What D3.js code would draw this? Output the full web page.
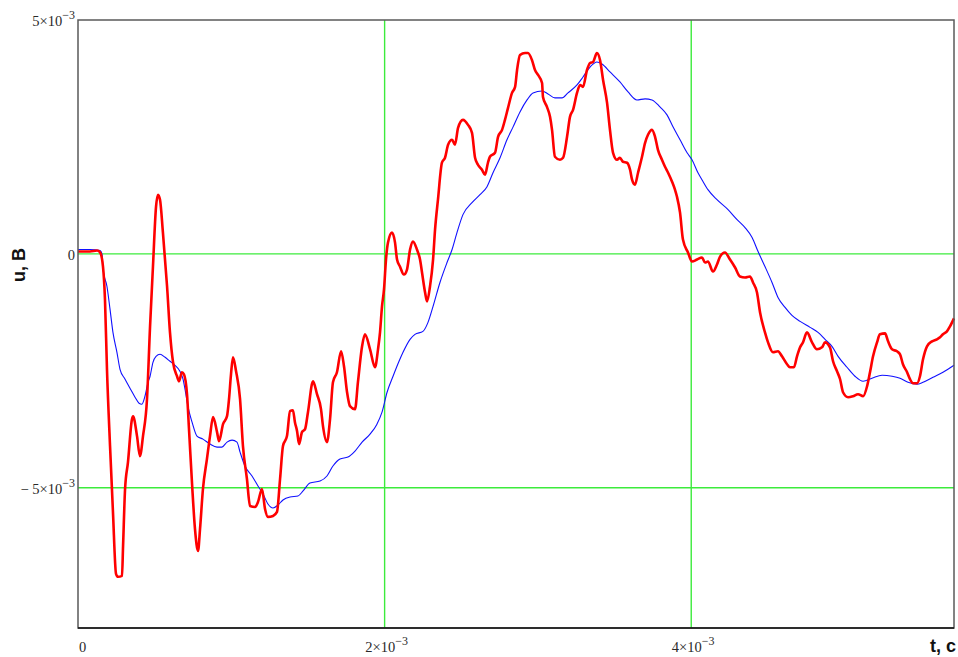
<!DOCTYPE html>
<html>
<head>
<meta charset="utf-8">
<script src="https://cdn.jsdelivr.net/npm/d3@7"></script>
<style>
  html, body { margin: 0; padding: 0; background: #ffffff; }
  svg { display: block; }
</style>
</head>
<body>
<svg id="chart" width="958" height="657"></svg>
<script>
// Time in milliseconds, voltage in millivolts; UNIT converts both to SI.
const UNIT = 1e-3;

// Measured signal (red)
const tRed = [0, 0.078, 0.124, 0.144, 0.163, 0.176, 0.189, 0.209, 0.228, 0.248, 0.261, 0.287, 0.294, 0.307, 0.326, 0.352, 0.359, 0.385, 0.404, 0.424,
  0.450, 0.470, 0.489, 0.509, 0.522, 0.535, 0.554, 0.581, 0.600, 0.620, 0.646, 0.659, 0.678, 0.691, 0.711, 0.724, 0.744, 0.763, 0.783, 0.796,
  0.815, 0.841, 0.861, 0.881, 0.907, 0.920, 0.946, 0.972, 0.985, 0.998, 1.011, 1.031, 1.057, 1.076, 1.102, 1.122, 1.155, 1.174, 1.200, 1.220,
  1.239, 1.272, 1.298, 1.318, 1.337, 1.363, 1.383, 1.402, 1.415, 1.429, 1.442, 1.461, 1.481, 1.500, 1.533, 1.559, 1.585, 1.598, 1.624, 1.644,
  1.663, 1.689, 1.716, 1.735, 1.755, 1.774, 1.807, 1.826, 1.853, 1.872, 1.905, 1.937, 1.957, 1.970, 1.983, 1.996, 2.009, 2.022, 2.048, 2.068,
  2.081, 2.100, 2.126, 2.146, 2.166, 2.185, 2.211, 2.231, 2.244, 2.264, 2.277, 2.296, 2.316, 2.329, 2.348, 2.374, 2.394, 2.414, 2.440, 2.459,
  2.479, 2.511, 2.544, 2.570, 2.590, 2.609, 2.635, 2.655, 2.674, 2.687, 2.720, 2.740, 2.766, 2.785, 2.805, 2.831, 2.851, 2.864, 2.883, 2.916,
  2.935, 2.961, 2.981, 3.001, 3.027, 3.033, 3.059, 3.079, 3.092, 3.111, 3.144, 3.164, 3.190, 3.209, 3.229, 3.255, 3.275, 3.294, 3.320, 3.340,
  3.359, 3.385, 3.405, 3.425, 3.451, 3.470, 3.490, 3.516, 3.535, 3.555, 3.581, 3.601, 3.614, 3.633, 3.653, 3.679, 3.699, 3.718, 3.744, 3.764,
  3.783, 3.809, 3.829, 3.849, 3.875, 3.894, 3.907, 3.927, 3.946, 3.979, 4.005, 4.038, 4.070, 4.090, 4.109, 4.142, 4.168, 4.188, 4.220, 4.253,
  4.286, 4.318, 4.351, 4.383, 4.403, 4.429, 4.449, 4.481, 4.501, 4.533, 4.566, 4.592, 4.625, 4.644, 4.670, 4.690, 4.710, 4.729, 4.755, 4.788,
  4.820, 4.853, 4.873, 4.905, 4.925, 4.951, 4.971, 4.990, 5.023, 5.055, 5.088, 5.121, 5.147, 5.166, 5.186, 5.212, 5.231, 5.264, 5.284, 5.310,
  5.342, 5.362, 5.381, 5.408, 5.427, 5.447, 5.473, 5.492, 5.512, 5.538, 5.571, 5.603, 5.623, 5.642, 5.668, 5.688, 5.714];
const uRed = [0.05, 0.05, 0.07, 0.03, -0.271, -0.975, -2.468, -4.111, -5.518, -6.841, -6.905, -6.884, -6.244, -5.028, -4.452, -3.535, -3.471, -3.897, -4.324, -3.897,
  -3.108, -1.551, -0.271, 1.009, 1.265, 1.158, 0.454, -0.698, -1.679, -2.319, -2.617, -2.724, -2.532, -2.575, -3.001, -3.748, -4.921, -5.881, -6.350, -5.881,
  -5.028, -4.388, -3.897, -3.492, -3.812, -4.004, -3.641, -3.471, -3.108, -2.575, -2.212, -2.511, -3.108, -4.111, -4.814, -5.390, -5.412, -5.305, -5.028, -5.454,
  -5.625, -5.604, -5.518, -4.814, -4.111, -3.897, -3.364, -3.343, -3.599, -3.791, -4.068, -3.812, -3.748, -3.385, -2.724, -3.001, -3.321, -3.684, -4.025, -3.535,
  -2.745, -2.532, -2.084, -2.404, -2.959, -3.257, -3.321, -2.745, -1.977, -1.721, -2.041, -2.425, -2.041, -1.679, -1.124, -0.762, -0.122, 0.241, 0.454, 0.241,
  -0.122, -0.271, -0.442, -0.335, 0.092, 0.262, 0.092, -0.122, -0.399, -0.826, -1.017, -0.698, -0.122, 0.518, 1.158, 1.948, 2.054, 2.332, 2.438, 2.332,
  2.694, 2.865, 2.758, 2.587, 2.054, 1.905, 1.798, 1.692, 1.948, 2.076, 2.161, 2.502, 2.651, 2.865, 3.121, 3.441, 3.569, 3.931, 4.251, 4.294,
  4.294, 4.145, 3.931, 3.825, 3.654, 3.355, 3.142, 2.929, 2.651, 2.076, 2.012, 2.054, 2.502, 2.929, 3.078, 3.441, 3.611, 3.569, 3.931, 4.081,
  4.102, 4.294, 4.145, 3.718, 3.227, 2.651, 2.161, 2.012, 2.054, 1.969, 1.948, 1.798, 1.585, 1.478, 1.734, 2.076, 2.374, 2.545, 2.651, 2.502,
  2.225, 2.012, 1.862, 1.734, 1.542, 1.372, 1.222, 0.881, 0.305, 0.028, -0.164, -0.122, -0.079, -0.186, -0.164, -0.378, -0.228, -0.058, 0.028, -0.122,
  -0.292, -0.484, -0.506, -0.484, -0.612, -0.826, -1.252, -1.679, -1.892, -2.105, -2.084, -2.191, -2.361, -2.425, -2.425, -2.191, -1.999, -1.892, -1.679, -1.892,
  -2.041, -1.999, -1.892, -1.999, -2.297, -2.511, -2.681, -2.959, -3.065, -3.044, -3.001, -3.044, -2.831, -2.532, -2.191, -1.892, -1.721, -1.700, -1.871, -2.041,
  -2.084, -2.148, -2.361, -2.532, -2.681, -2.767, -2.767, -2.617, -2.255, -1.977, -1.871, -1.828, -1.785, -1.721, -1.657, -1.551, -1.380];

// Model response (blue)
const tBlue = [0, 0.078, 0.144, 0.157, 0.163, 0.189, 0.209, 0.228, 0.254, 0.274, 0.307, 0.339, 0.372, 0.398, 0.417, 0.437, 0.457, 0.470, 0.489, 0.509,
  0.535, 0.568, 0.600, 0.633, 0.665, 0.685, 0.698, 0.718, 0.744, 0.776, 0.815, 0.861, 0.907, 0.939, 0.972, 1.005, 1.037, 1.057, 1.089, 1.135,
  1.174, 1.207, 1.239, 1.272, 1.305, 1.337, 1.383, 1.435, 1.468, 1.513, 1.579, 1.624, 1.663, 1.709, 1.761, 1.807, 1.853, 1.905, 1.950, 1.983,
  2.016, 2.055, 2.094, 2.120, 2.166, 2.198, 2.250, 2.283, 2.316, 2.361, 2.407, 2.440, 2.472, 2.511, 2.570, 2.622, 2.668, 2.707, 2.753, 2.798,
  2.838, 2.883, 2.929, 2.968, 3.027, 3.066, 3.111, 3.157, 3.196, 3.255, 3.294, 3.340, 3.385, 3.418, 3.470, 3.535, 3.588, 3.646, 3.699, 3.744,
  3.796, 3.842, 3.881, 3.927, 3.973, 4.005, 4.044, 4.070, 4.109, 4.168, 4.240, 4.299, 4.351, 4.397, 4.436, 4.481, 4.527, 4.566, 4.612, 4.657,
  4.710, 4.775, 4.827, 4.873, 4.918, 4.958, 5.016, 5.068, 5.121, 5.179, 5.245, 5.310, 5.362, 5.414, 5.473, 5.512, 5.577, 5.642, 5.714];
const uBlue = [0.092, 0.092, 0.070, -0.015, -0.335, -0.698, -1.188, -1.679, -2.105, -2.468, -2.681, -2.873, -3.065, -3.193, -3.215, -3.044, -2.745, -2.617, -2.319, -2.191,
  -2.148, -2.212, -2.297, -2.383, -2.511, -2.681, -2.895, -3.279, -3.599, -3.897, -3.961, -4.068, -4.132, -4.132, -4.025, -3.983, -4.025, -4.238, -4.537, -4.750,
  -4.964, -5.134, -5.348, -5.433, -5.369, -5.262, -5.198, -5.177, -5.070, -4.900, -4.857, -4.750, -4.537, -4.388, -4.345, -4.217, -4.025, -3.855, -3.641, -3.385,
  -2.959, -2.617, -2.297, -2.105, -1.828, -1.721, -1.657, -1.465, -1.124, -0.612, -0.186, 0.092, 0.454, 0.838, 1.094, 1.265, 1.436, 1.734, 2.054, 2.438,
  2.715, 3.035, 3.291, 3.441, 3.483, 3.419, 3.334, 3.334, 3.441, 3.611, 3.782, 3.995, 4.102, 4.059, 3.889, 3.675, 3.462, 3.291, 3.313, 3.291,
  3.142, 2.971, 2.715, 2.438, 2.161, 2.012, 1.734, 1.585, 1.372, 1.158, 0.945, 0.732, 0.561, 0.348, 0.049, -0.271, -0.612, -0.932, -1.145, -1.316,
  -1.444, -1.572, -1.679, -1.828, -1.977, -2.191, -2.425, -2.617, -2.724, -2.660, -2.596, -2.617, -2.660, -2.745, -2.788, -2.745, -2.639, -2.532, -2.383];

// Axes: ranges, tick labels and grid lines (SI units)
const xDomain = [0, 5.714e-3];
const yDomain = [-8e-3, 5e-3];
const xTicks = [0, 2e-3, 4e-3];
const xTickLabels = [["0", ""], ["2\u00d710", "\u22123"], ["4\u00d710", "\u22123"]];
const yTicks = [5e-3, 0, -5e-3];
const yTickLabels = [["5\u00d710", "\u22123"], ["0", ""], ["\u2212 5\u00d710", "\u22123"]];
const xGrid = [2e-3, 4e-3];
const yGrid = [0, -5e-3];
const xTitle = "t, c";
const yTitle = "u, B";

const svg = d3.select("#chart");
const plot = { left: 78, right: 954, top: 20, bottom: 628 };

const x = d3.scaleLinear().domain(xDomain).range([plot.left, plot.right]);
const y = d3.scaleLinear().domain(yDomain).range([plot.bottom, plot.top]);

// Grid lines
svg.append("g").selectAll("line").data(xGrid).join("line")
  .attr("x1", d => x(d)).attr("x2", d => x(d))
  .attr("y1", plot.top).attr("y2", plot.bottom)
  .attr("stroke", "#3ceb3c").attr("stroke-width", 1.4);
svg.append("g").selectAll("line").data(yGrid).join("line")
  .attr("x1", plot.left).attr("x2", plot.right)
  .attr("y1", d => y(d)).attr("y2", d => y(d))
  .attr("stroke", "#3ceb3c").attr("stroke-width", 1.4);

// Traces
const redPts = tRed.map((t, i) => [t * UNIT, uRed[i] * UNIT]);
const bluePts = tBlue.map((t, i) => [t * UNIT, uBlue[i] * UNIT]);
const line = d3.line().x(d => x(d[0])).y(d => y(d[1])).curve(d3.curveMonotoneX);

svg.append("path").datum(bluePts)
  .attr("d", line).attr("fill", "none")
  .attr("stroke", "#1010ff").attr("stroke-width", 1.1);
svg.append("path").datum(redPts)
  .attr("d", line).attr("fill", "none")
  .attr("stroke", "#ff0000").attr("stroke-width", 2.6)
  .attr("stroke-linejoin", "round");

// Frame
svg.append("rect")
  .attr("x", plot.left).attr("y", plot.top)
  .attr("width", plot.right - plot.left).attr("height", plot.bottom - plot.top)
  .attr("fill", "none").attr("stroke", "#5a5a5a").attr("stroke-width", 1.5);
svg.append("line")
  .attr("x1", plot.left).attr("x2", plot.right).attr("y1", plot.bottom).attr("y2", plot.bottom)
  .attr("stroke", "#111").attr("stroke-width", 1.5);

// Tick labels with superscript exponent
function tickLabel(sel, parts) {
  sel.append("tspan").text(parts[0]);
  if (parts[1]) {
    sel.append("tspan").attr("dy", -7).attr("font-size", 12).text(parts[1]);
  }
}
const tickFont = "'Liberation Serif', 'Times New Roman', serif";

svg.append("g").selectAll("text").data(xTicks).join("text")
  .attr("x", (d, i) => i === 0 ? x(d) + 1 : x(d) + 2)
  .attr("y", 652)
  .attr("text-anchor", (d, i) => i === 0 ? "start" : "middle")
  .attr("font-family", tickFont).attr("font-size", 14.5).attr("fill", "#2a2a2a")
  .each(function(d, i) { tickLabel(d3.select(this), xTickLabels[i]); });

svg.append("g").selectAll("text").data(yTicks).join("text")
  .attr("x", 75)
  .attr("y", d => y(d) + 6)
  .attr("text-anchor", "end")
  .attr("font-family", tickFont).attr("font-size", 14.5).attr("fill", "#2a2a2a")
  .each(function(d, i) { tickLabel(d3.select(this), yTickLabels[i]); });

// Axis titles
svg.append("text")
  .attr("x", 956).attr("y", 652)
  .attr("text-anchor", "end")
  .attr("font-family", "'Liberation Sans', Arial, sans-serif")
  .attr("font-size", 18).attr("font-weight", "bold").attr("fill", "#111")
  .text(xTitle);
svg.append("text")
  .attr("transform", "translate(25,265) rotate(-90)")
  .attr("text-anchor", "middle")
  .attr("font-family", "'Liberation Sans', Arial, sans-serif")
  .attr("font-size", 18).attr("font-weight", "bold").attr("fill", "#111")
  .text(yTitle);
</script>
</body>
</html>
